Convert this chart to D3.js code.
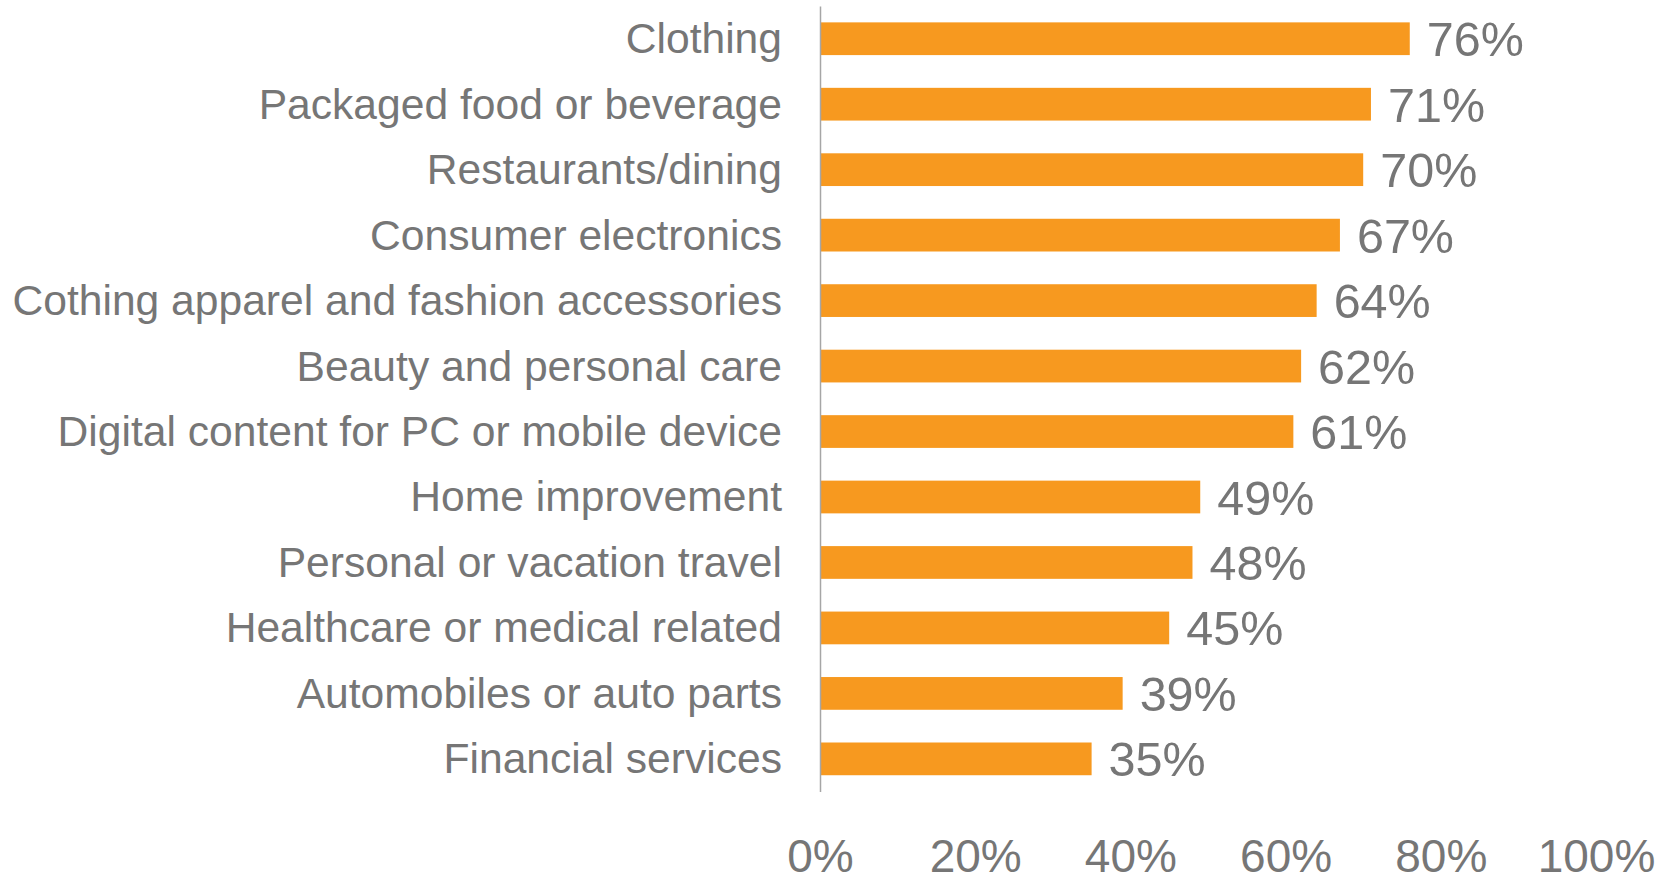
<!DOCTYPE html>
<html>
<head>
<meta charset="utf-8">
<script src="https://cdn.jsdelivr.net/npm/d3@7"></script>
<style>
  body { margin: 0; background: #fff; }
  svg { display: block; }
</style>
</head>
<body>
<div id="paper"></div>
<script>
// data

const categories = [
  'Clothing',
  'Packaged food or beverage',
  'Restaurants/dining',
  'Consumer electronics',
  'Cothing apparel and fashion accessories',
  'Beauty and personal care',
  'Digital content for PC or mobile device',
  'Home improvement',
  'Personal or vacation travel',
  'Healthcare or medical related',
  'Automobiles or auto parts',
  'Financial services'
]
const values = [0.76, 0.71, 0.70, 0.67, 0.64, 0.62, 0.61, 0.49, 0.48, 0.45, 0.39, 0.35]
const xTicks = [0, 0.2, 0.4, 0.6, 0.8, 1]

// svg

const width = 1674, height = 882
const font = "'Liberation Sans', Arial, sans-serif"
const grey = '#767676'

const svg = d3.select('#paper')
  .append('svg')
  .attr('width', width)
  .attr('height', height)

const x = d3.scaleLinear().domain([0, 1]).range([820, 1596])
const y = d3.scaleBand().domain(categories).range([6, 791.6])
  .paddingInner(0.5).paddingOuter(0.25)

const rows = categories.map((c, i) => ({ cat: c, val: values[i] }))

// bars

svg.append('g')
  .selectAll('rect')
  .data(rows)
  .join('rect')
  .attr('x', x(0))
  .attr('y', d => y(d.cat))
  .attr('width', d => x(d.val) - x(0))
  .attr('height', y.bandwidth())
  .attr('fill', '#F7991F')

// value labels

svg.append('g')
  .selectAll('text')
  .data(rows)
  .join('text')
  .attr('x', d => x(d.val) + 17)
  .attr('y', d => y(d.cat) + y.bandwidth() / 2 + 17.5)
  .attr('font-family', font)
  .attr('font-size', '48.5px')
  .attr('fill', grey)
  .text(d => d3.format('.0%')(d.val))

// y axis (category labels + vertical line)

const yAxis = svg.append('g')
  .attr('transform', `translate(${x(0)},0)`)
  .call(d3.axisLeft(y).tickSize(0).tickSizeOuter(0).tickPadding(38))

yAxis.select('.domain').attr('stroke', '#A6A6A6').attr('stroke-width', 1.5)
yAxis.selectAll('text')
  .attr('font-family', font)
  .attr('font-size', '42.6px')
  .attr('fill', grey)
  .attr('dy', '0.34em')

// x axis, labels only

const xAxis = svg.append('g')
  .call(d3.axisBottom(x).tickValues(xTicks).tickSize(0).tickFormat(d3.format('.0%')))

xAxis.select('.domain').remove()
xAxis.selectAll('text')
  .attr('y', 872)
  .attr('dy', 0)
  .attr('font-family', font)
  .attr('font-size', '46px')
  .attr('fill', grey)
</script>
</body>
</html>
